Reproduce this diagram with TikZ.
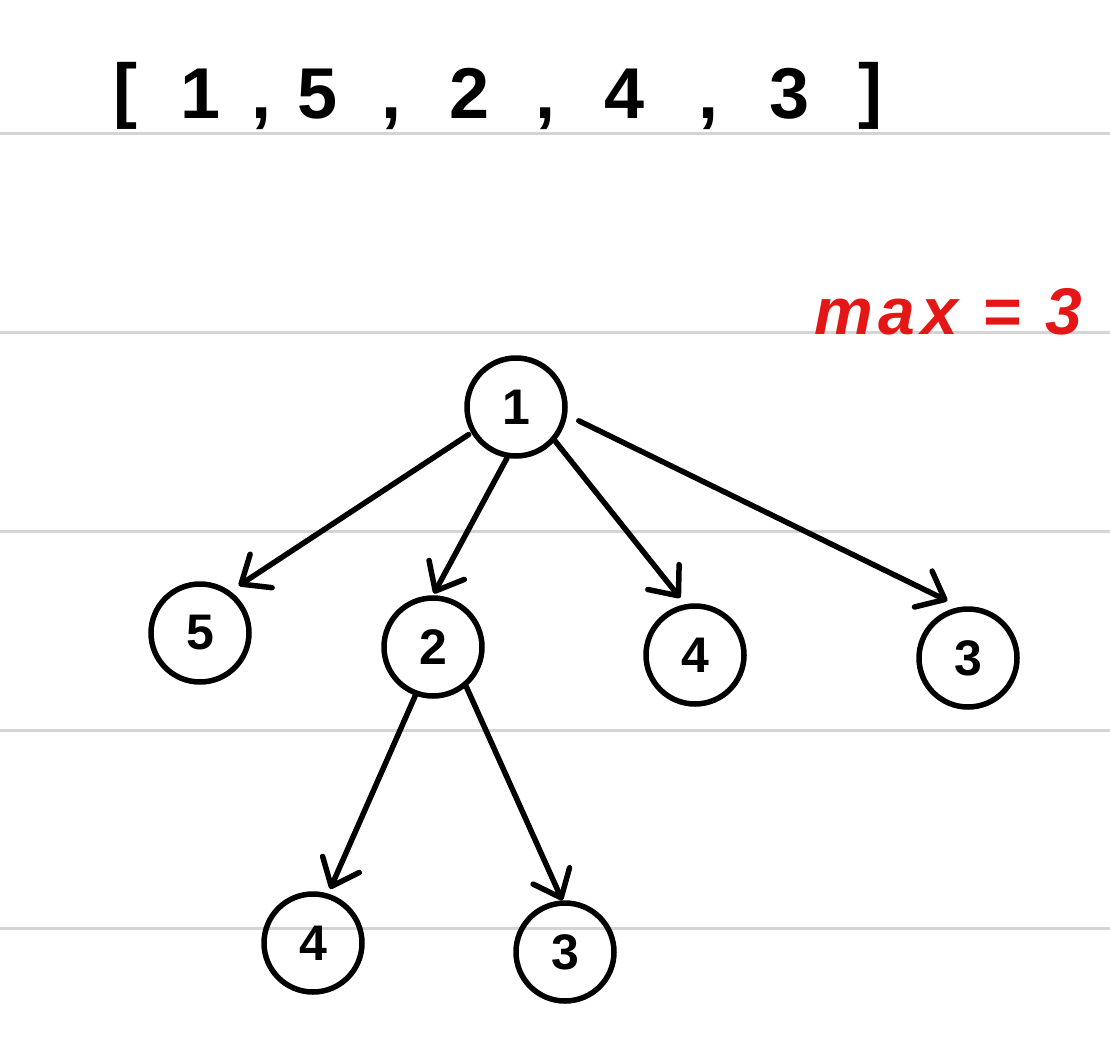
\documentclass[tikz,border=0pt]{standalone}
\usepackage{fontspec}
\setmainfont{Liberation Sans}
\usetikzlibrary{arrows.meta}
\definecolor{rulegray}{RGB}{212,212,212}
\definecolor{markred}{RGB}{228,22,22}
\begin{document}
\begin{tikzpicture}[x=1pt,y=-1pt,
  treenode/.style={circle,draw=black,line width=5.5pt,minimum size=98pt,inner sep=0pt,
    font=\fontsize{50}{50}\selectfont\bfseries},
  edge/.style={line width=5.5pt,line cap=round,
    -{Straight Barb[length=24pt,width=40pt,line cap=round,line join=round]}},
  ruleline/.style={draw=rulegray,line width=3pt},
  topchar/.style={anchor=base,inner sep=0pt,font=\fontsize{72}{72}\selectfont\bfseries},
  topbracket/.style={anchor=center,inner sep=0pt,font=\fontsize{72}{72}\selectfont\bfseries}]
\fill[white] (0,0) rectangle (1110,1038);
\useasboundingbox (0,0) rectangle (1110,1038);
\foreach \yy in {133,332,531,730,928} \draw[ruleline] (0,\yy) -- (1110,\yy);
% top list
\node[topbracket] (lb) at (125,96) {[};
\node[topchar] (t1) at (201,118) {1};
\node[topchar] (c1) at (261,118) {,};
\node[topchar] (t2) at (318,118) {5};
\node[topchar] (c2) at (391,118) {,};
\node[topchar] (t3) at (470,118) {2};
\node[topchar] (c3) at (545,118) {,};
\node[topchar] (t4) at (625,118) {4};
\node[topchar] (c4) at (708,118) {,};
\node[topchar] (t5) at (790,118) {3};
\node[topbracket] (rb) at (870,96) {]};
% max label
\node[anchor=base,inner sep=0pt,text=markred,
  font=\fontsize{66}{66}\selectfont\bfseries\itshape\addfontfeature{LetterSpace=9}]
  (maxlbl) at (948,334) {max = 3};
% tree
\node[treenode] (r) at (516,407) {1};
\node[treenode] (a) at (200,633) {5};
\node[treenode] (b) at (433,647) {2};
\node[treenode] (c) at (695,655) {4};
\node[treenode] (d) at (968,658) {3};
\node[treenode] (e) at (313,943) {4};
\node[treenode] (f) at (565,952) {3};
\draw[edge,shorten <=3pt,shorten >=10pt] (r.210) -- (a.54);
\draw[edge,shorten >=2pt] (r.260) -- (b.90);
\draw[edge,shorten >=8pt] (r.319) -- (c.101);
\draw[edge,shorten <=13pt,shorten >=14pt] (r.351) -- (d.99);
\draw[edge,shorten >=5pt] (b.250) -- (e.73);
\draw[edge] (b.310) -- (f.93);
\end{tikzpicture}
\end{document}
